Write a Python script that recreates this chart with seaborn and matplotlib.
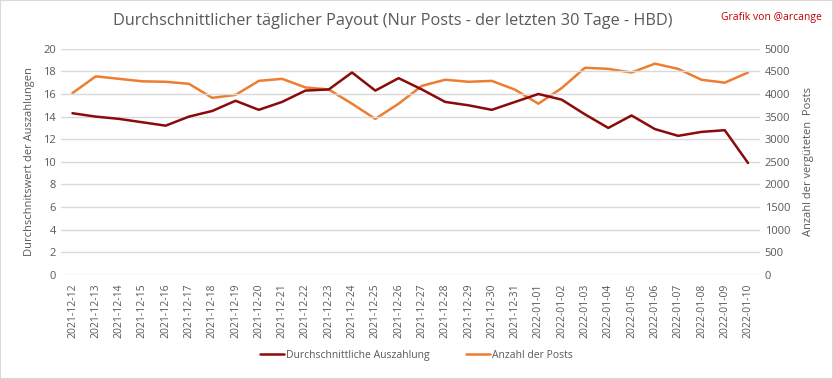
import matplotlib
matplotlib.use("Agg")
import matplotlib.pyplot as plt
import matplotlib.patches as mpatches
import seaborn as sns
import pandas as pd

dates = [
    "2021-12-12", "2021-12-13", "2021-12-14", "2021-12-15", "2021-12-16",
    "2021-12-17", "2021-12-18", "2021-12-19", "2021-12-20", "2021-12-21",
    "2021-12-22", "2021-12-23", "2021-12-24", "2021-12-25", "2021-12-26",
    "2021-12-27", "2021-12-28", "2021-12-29", "2021-12-30", "2021-12-31",
    "2022-01-01", "2022-01-02", "2022-01-03", "2022-01-04", "2022-01-05",
    "2022-01-06", "2022-01-07", "2022-01-08", "2022-01-09", "2022-01-10",
]
payout = [14.3, 14.0, 13.8, 13.5, 13.2, 14.0, 14.5, 15.4, 14.6, 15.3,
          16.3, 16.4, 17.9, 16.3, 17.4, 16.4, 15.3, 15.0, 14.6, 15.3,
          16.0, 15.5, 14.2, 13.0, 14.1, 12.9, 12.3, 12.65, 12.8, 9.9]
posts = [4020, 4390, 4335, 4280, 4270, 4225, 3915, 3980, 4290, 4335,
         4145, 4100, 3785, 3450, 3785, 4180, 4315, 4270, 4290, 4095,
         3785, 4130, 4580, 4555, 4475, 4670, 4555, 4315, 4250, 4475]

df = pd.DataFrame({"Datum": dates, "Auszahlung": payout, "Posts": posts})

sns.set_style("white")
plt.rcParams["font.family"] = ["Open Sans", "DejaVu Sans"]

RED = "#8B0A0A"
ORANGE = "#ED7D31"
TEXT = "#595959"
GRID = "#D9D9D9"

fig = plt.figure(figsize=(8.33, 3.79), dpi=100)
ax = fig.add_axes([0.073, 0.2744, 0.839, 0.597])
ax2 = ax.twinx()

sns.lineplot(data=df, x="Datum", y="Auszahlung", ax=ax, color=RED, linewidth=1.8)
sns.lineplot(data=df, x="Datum", y="Posts", ax=ax2, color=ORANGE, linewidth=1.8)
ax.set_zorder(ax2.get_zorder() + 1)
ax.patch.set_visible(False)

ax.set_ylim(0, 20)
ax.set_yticks(range(0, 21, 2))
ax2.set_ylim(0, 5000)
ax2.set_yticks(range(0, 5001, 500))
ax.set_xlim(-0.5, len(dates) - 0.5)

ax.yaxis.grid(True, color=GRID, linewidth=1)
ax.set_axisbelow(True)
for a in (ax, ax2):
    for s in a.spines.values():
        s.set_visible(False)
    a.tick_params(length=0, colors=TEXT, labelsize=8)

ax.set_xticks(range(len(dates)))
ax.set_xticklabels(dates, rotation=90, fontsize=7.5, color=TEXT)
ax.tick_params(axis="x", pad=6)

ax.set_xlabel("")
ax.set_ylabel("Durchschnitswert der Auszahlungen", color=TEXT, fontsize=8, labelpad=6)
ax2.set_ylabel("Anzahl der vergüteten  Posts", color=TEXT, fontsize=8, labelpad=9)

fig.text(0.471, 0.945, "Durchschnittlicher täglicher Payout (Nur Posts - der letzten 30 Tage - HBD)",
         ha="center", va="center", fontsize=11.7, color=TEXT)
fig.text(0.987, 0.953, "Grafik von @arcange", ha="right", va="center",
         fontsize=7.5, color="#C00000")

handles = [plt.Line2D([], [], color=RED, linewidth=1.8),
           plt.Line2D([], [], color=ORANGE, linewidth=1.8)]
fig.legend(handles, ["Durchschnittliche Auszahlung", "Anzahl der Posts"],
           loc="center", bbox_to_anchor=(0.5, 0.063), ncol=2, frameon=False,
           fontsize=7.5, labelcolor=TEXT, handlelength=2.3, handletextpad=0.2,
           columnspacing=3.5)

fig.patches.append(mpatches.Rectangle((0, 0), 1, 1, transform=fig.transFigure,
                                      fill=False, edgecolor=GRID, linewidth=1.5))

plt.savefig("out.png", dpi=100)
plt.close()
